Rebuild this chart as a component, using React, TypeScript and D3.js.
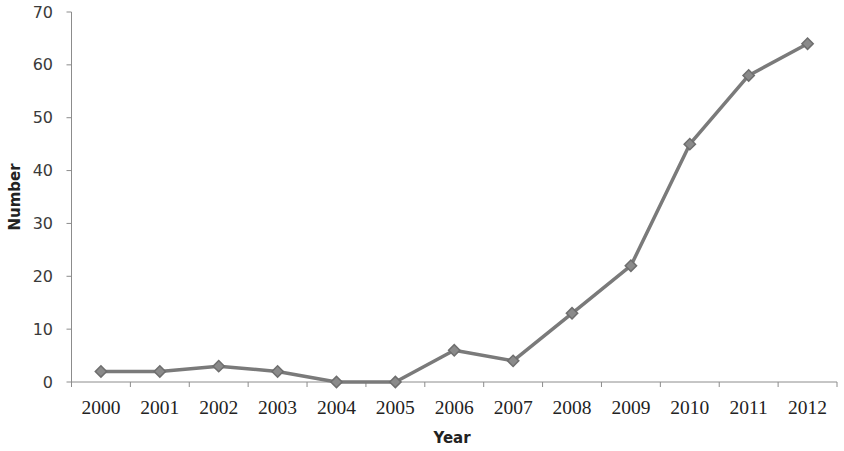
import React from "react";
import * as d3 from "d3";

const years = ["2000","2001","2002","2003","2004","2005","2006","2007","2008","2009","2010","2011","2012"];
const values = [2, 2, 3, 2, 0, 0, 6, 4, 13, 22, 45, 58, 64];
const yTicks = [0, 10, 20, 30, 40, 50, 60, 70];

export default function App() {
  const W = 844, H = 451;
  const left = 71.5, right = 837, top = 12, bottom = 382;
  const x = d3.scaleBand<string>().domain(years).range([left, right]);
  const y = d3.scaleLinear().domain([0, 70]).range([bottom, top]);
  const line = d3.line<number>()
    .x((_, i) => (x(years[i]) as number) + x.bandwidth() / 2)
    .y((d) => y(d));
  const diamond = d3.symbol().type(d3.symbolSquare).size(64)() as string;
  const axisColor = "#8c8c8c";
  return (
    <svg width={W} height={H} style={{ position: "absolute", left: 0, top: 0, background: "#fff" }}>
      <line x1={left} x2={left} y1={top} y2={bottom} stroke={axisColor} strokeWidth={1} />
      {yTicks.map((t) => (
        <g key={t}>
          <line x1={left - 5} x2={left} y1={y(t)} y2={y(t)} stroke={axisColor} />
          <text x={53} y={y(t)} dy="0.35em" textAnchor="end" fontFamily="'DejaVu Sans', Verdana, sans-serif" fontSize={16} fill="#3a3a3a">{t}</text>
        </g>
      ))}
      <line x1={left} x2={right} y1={bottom} y2={bottom} stroke={axisColor} />
      {years.map((yr) => (
        <line key={"t" + yr} x1={(x(yr) as number)} x2={(x(yr) as number)} y1={bottom} y2={bottom + 5} stroke={axisColor} />
      ))}
      <line x1={right} x2={right} y1={bottom} y2={bottom + 5} stroke={axisColor} />
      {years.map((yr) => (
        <text key={yr} x={(x(yr) as number) + x.bandwidth() / 2} y={414} textAnchor="middle" fontFamily="'Liberation Serif', 'Times New Roman', serif" fontSize={19.5} fill="#222">{yr}</text>
      ))}
      <text x={452} y={443} textAnchor="middle" fontFamily="'DejaVu Sans', Verdana, sans-serif" fontWeight="bold" fontSize={15} fill="#222">Year</text>
      <text transform={`translate(20,${197}) rotate(-90)`} textAnchor="middle" fontFamily="'DejaVu Sans', Verdana, sans-serif" fontWeight="bold" fontSize={15} fill="#222">Number</text>
      <path d={line(values) as string} fill="none" stroke="#7a7a7a" strokeWidth={3.5} strokeLinejoin="round" />
      {values.map((v, i) => (
        <path key={i} d={diamond} transform={`translate(${(x(years[i]) as number) + x.bandwidth() / 2},${y(v)}) rotate(45)`} fill="#8a8a8a" stroke="#6e6e6e" strokeWidth={1.5} />
      ))}
    </svg>
  );
}
